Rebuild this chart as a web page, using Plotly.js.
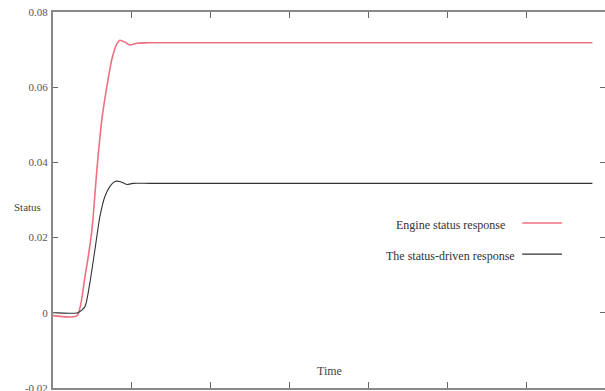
<!DOCTYPE html>
<html>
<head>
<meta charset="utf-8">
<script src="https://cdn.plot.ly/plotly-3.0.1.min.js"></script>
<style>html,body{margin:0;padding:0;background:#fff;}#chart{width:605px;height:391px;}</style>
</head>
<body>
<div id="chart"></div>
<script>
// Engine status response (red)
const timeRed = [0, 0.304, 0.405, 0.494, 0.557, 0.620, 0.684, 0.747, 0.810, 0.848, 0.911, 0.975, 1.063, 1.19, 6.84];
const statusRed = [-0.0008, -0.0008, 0.0096, 0.0221, 0.0381, 0.0515, 0.0603, 0.0675, 0.0715, 0.0725, 0.0720, 0.0712, 0.0717, 0.0718, 0.0718];
// The status-driven response (black)
const timeBlack = [0, 0.316, 0.405, 0.468, 0.532, 0.595, 0.658, 0.722, 0.785, 0.848, 0.937, 1.013, 1.228, 6.84];
const statusBlack = [0, 0, 0.0016, 0.0080, 0.0168, 0.0256, 0.0309, 0.0336, 0.0349, 0.0349, 0.0341, 0.0344, 0.0344, 0.0344];
const seriesNames = ["Engine status response", "The status-driven response"];
const yTickVals = [-0.02, 0, 0.02, 0.04, 0.06, 0.08];
const yTickText = ["-0.02", "0", "0.02", "0.04", "0.06", "0.08"];
const xTickVals = [0, 1, 2, 3, 4, 5, 6, 7];

const redColor = "#f07080";
const blackColor = "#333333";
const serif = "Liberation Serif, Times New Roman, serif";

const traces = [
  {x: timeRed, y: statusRed, type: "scatter", mode: "lines", name: seriesNames[0],
   line: {color: redColor, width: 1.6, shape: "spline", smoothing: 0.6}, showlegend: false},
  {x: timeBlack, y: statusBlack, type: "scatter", mode: "lines", name: seriesNames[1],
   line: {color: blackColor, width: 1.1, shape: "spline", smoothing: 0.6}, showlegend: false}
];

const legY = [0.439, 0.356];
const legColors = [redColor, blackColor];
const layout = {
  width: 605, height: 391,
  margin: {l: 53, r: 0, t: 12, b: 3},
  paper_bgcolor: "#fff", plot_bgcolor: "#fff",
  font: {family: serif, size: 11, color: "#444"},
  xaxis: {range: [0, 7], tickvals: xTickVals, showticklabels: false, ticks: "inside", ticklen: 6,
          tickcolor: "#666", showgrid: false, zeroline: false, showline: true, linecolor: "#888",
          linewidth: 2, mirror: "ticks"},
  yaxis: {range: [-0.02005, 0.08], tickvals: yTickVals, ticktext: yTickText, ticks: "inside", ticklen: 5,
          tickcolor: "#666", showgrid: false, zeroline: false, showline: true, linecolor: "#888",
          linewidth: 2, mirror: "ticks", ticklabelstandoff: 1, ticklabeloverflow: "allow",
          tickfont: {family: serif, size: 11, color: "#555"}},
  shapes: legY.map((y, i) => ({type: "line", xref: "paper", yref: "paper", x0: 0.850, x1: 0.922,
           y0: y, y1: y, line: {color: legColors[i], width: i === 0 ? 1.6 : 1.1}})),
  annotations: [
    {text: seriesNames[0], xref: "paper", yref: "paper", x: 0.721, y: 0.434, showarrow: false,
     xanchor: "center", yanchor: "middle", font: {family: serif, size: 12, color: "#333"}},
    {text: seriesNames[1], xref: "paper", yref: "paper", x: 0.721, y: 0.351, showarrow: false,
     xanchor: "center", yanchor: "middle", font: {family: serif, size: 12, color: "#333"}},
    {text: "Time", xref: "paper", yref: "paper", x: 0.5, y: 0.045, showarrow: false,
     xanchor: "center", yanchor: "middle", font: {family: serif, size: 12, color: "#444"}},
    {text: "Status", xref: "paper", yref: "paper", x: -0.047, y: 0.481, showarrow: false,
     xanchor: "center", yanchor: "middle", font: {family: serif, size: 11, color: "#444"}}
  ]
};

Plotly.newPlot("chart", traces, layout, {staticPlot: true, displayModeBar: false});
</script>
</body>
</html>
